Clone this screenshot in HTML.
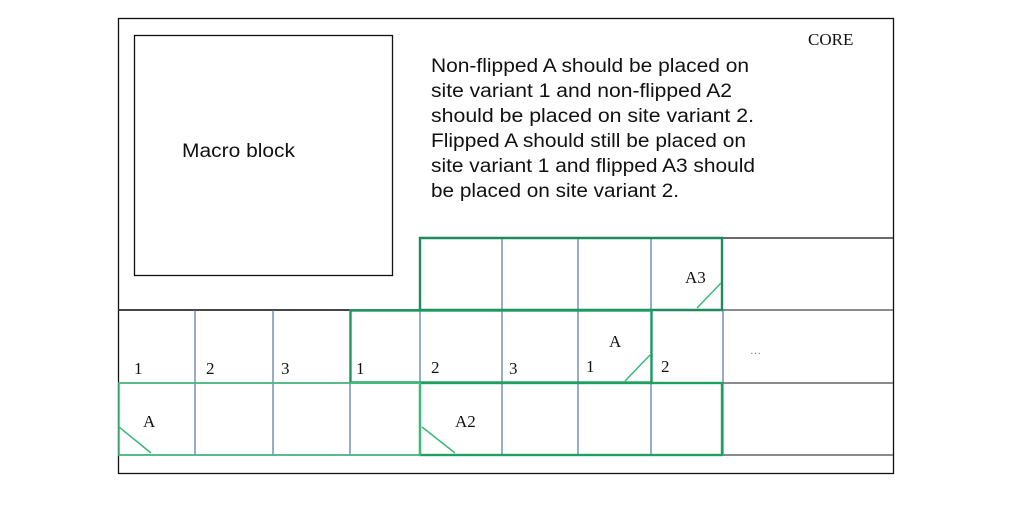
<!DOCTYPE html>
<html><head><meta charset="utf-8"><style>
html,body{margin:0;padding:0;background:#fff;width:1012px;height:506px;overflow:hidden}
</style></head><body>
<svg width="1012" height="506" viewBox="0 0 1012 506" xmlns="http://www.w3.org/2000/svg">
<rect x="118.5" y="18.5" width="775" height="455" fill="none" stroke="#111" stroke-width="1.3"/>
<rect x="134.5" y="35.5" width="258" height="240" fill="none" stroke="#111" stroke-width="1.3"/>
<line x1="420" y1="238" x2="893" y2="238" stroke="#111" stroke-width="1.3"/>
<line x1="118" y1="310" x2="893" y2="310" stroke="#666" stroke-width="1.6"/>
<line x1="118" y1="310" x2="420" y2="310" stroke="#222" stroke-width="1.4"/>
<line x1="118" y1="383" x2="893" y2="383" stroke="#666" stroke-width="1.6"/>
<line x1="118" y1="455" x2="893" y2="455" stroke="#666" stroke-width="1.6"/>
<g stroke="#4f74a8" stroke-width="1.2">
<line x1="195" y1="310" x2="195" y2="455"/>
<line x1="273" y1="310" x2="273" y2="455"/>
<line x1="350" y1="310" x2="350" y2="455"/>
<line x1="420" y1="310" x2="420" y2="455"/>
<line x1="502" y1="238" x2="502" y2="455"/>
<line x1="578" y1="238" x2="578" y2="455"/>
<line x1="651" y1="238" x2="651" y2="455"/>
<line x1="723" y1="310" x2="723" y2="455"/>
</g>
<g fill="none" stroke-width="2.4">
<path d="M420,310 V238 H722 V310 H420" stroke="#1e8a5e"/>
<rect x="350.5" y="310.5" width="301" height="72" stroke="#1e9a60"/>
<rect x="420" y="383" width="302" height="72" stroke="#20a060"/>
<rect x="119" y="383" width="301" height="72" stroke="#40c080" stroke-width="1.6"/>
</g>
<g stroke="#3cb878" stroke-width="1.5">
<line x1="119" y1="427" x2="151" y2="453"/>
<line x1="422" y1="427" x2="455" y2="453"/>
<line x1="697" y1="308" x2="721" y2="283"/>
<line x1="625" y1="381" x2="650" y2="355"/>
</g>
<g font-family="Liberation Serif, serif" font-size="17" fill="#111">
<text x="808" y="45">CORE</text>
<text x="134" y="374">1</text>
<text x="206" y="374">2</text>
<text x="281" y="374">3</text>
<text x="356" y="374">1</text>
<text x="431" y="373">2</text>
<text x="509" y="374">3</text>
<text x="586" y="372">1</text>
<text x="661" y="372">2</text>
<text x="143" y="427">A</text>
<text x="455" y="427">A2</text>
<text x="685" y="283">A3</text>
<text x="609" y="347">A</text>
<text x="750" y="354" font-size="11" fill="#777">…</text>
</g>
<g font-family="Liberation Sans, sans-serif" font-size="19" fill="#111" lengthAdjust="spacingAndGlyphs">
<text x="182" y="157" textLength="113" lengthAdjust="spacingAndGlyphs">Macro block</text>
<text x="431" y="72" textLength="318" lengthAdjust="spacingAndGlyphs">Non-flipped A should be placed on</text>
<text x="431" y="97" textLength="301" lengthAdjust="spacingAndGlyphs">site variant 1 and non-flipped A2</text>
<text x="431" y="122" textLength="323" lengthAdjust="spacingAndGlyphs">should be placed on site variant 2.</text>
<text x="431" y="147" textLength="315" lengthAdjust="spacingAndGlyphs">Flipped A should still be placed on</text>
<text x="431" y="172" textLength="324" lengthAdjust="spacingAndGlyphs">site variant 1 and flipped A3 should</text>
<text x="431" y="197" textLength="248" lengthAdjust="spacingAndGlyphs">be placed on site variant 2.</text>
</g>
</svg>
</body></html>
